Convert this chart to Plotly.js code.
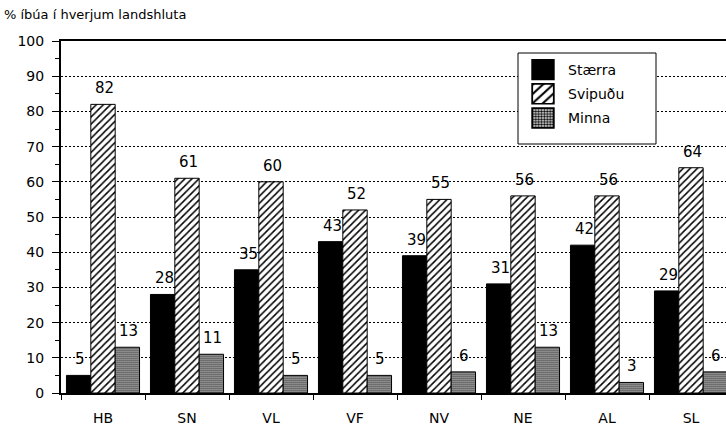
<!DOCTYPE html>
<html>
<head>
<meta charset="utf-8">
<script src="https://cdn.plot.ly/plotly-3.0.1.min.js"></script>
<style>
html,body{margin:0;padding:0;overflow:hidden;background:#fff;width:726px;height:425px;}
#chart{width:740px;height:425px;}
</style>
</head>
<body>
<div id="chart"></div>
<script>
const categories = ["HB", "SN", "VL", "VF", "NV", "NE", "AL", "SL"];
const staerra = [5, 28, 35, 43, 39, 31, 42, 29];
const svipudu = [82, 61, 60, 52, 55, 56, 56, 64];
const minna = [13, 11, 5, 5, 6, 13, 3, 6];
const seriesNames = ["Stærra", "Svipuðu", "Minna"];
const yTitle = "% íbúa í hverjum landshluta";

const FONT = "DejaVu Sans, Liberation Sans, sans-serif";
const line = {color: "#000", width: 1};

const traces = [
  {type: "bar", name: seriesNames[0], x: categories, y: staerra,
   marker: {color: "#000", line: line}, legendgroup: "a"},
  {type: "bar", name: seriesNames[1], x: categories, y: svipudu,
   marker: {color: "#fff", line: line,
     pattern: {shape: "/", fgcolor: "#000", bgcolor: "#fff", size: 5, solidity: 0.3}}, legendgroup: "b"},
  {type: "bar", name: seriesNames[2], x: categories, y: minna,
   marker: {color: "#fff", line: line,
     pattern: {shape: ".", fgcolor: "#000", bgcolor: "#fff", size: 2, solidity: 0.6}}, legendgroup: "c"}
];

const series = [staerra, svipudu, minna];
const shifts = [-24, 0, 24];
const annotations = [];
series.forEach((vals, s) => {
  vals.forEach((v, i) => {
    annotations.push({
      x: categories[i], y: v, xref: "x", yref: "y",
      text: String(v), showarrow: false,
      xanchor: "center", yanchor: "bottom",
      xshift: shifts[s] + 1, yshift: 5,
      font: {family: FONT, size: 15, color: "#000"}
    });
  });
});

const W = 740, H = 425, ML = 61, MR = 7, MT = 41, MB = 32;
const pw = W - ML - MR, ph = H - MT - MB;
const px2x = p => (p - ML) / pw;
const px2y = p => 1 - (p - MT) / ph;

const layout = {
  width: W, height: H,
  margin: {l: ML, r: MR, t: MT, b: MB},
  paper_bgcolor: "#fff", plot_bgcolor: "#fff",
  font: {family: FONT, size: 14, color: "#000"},
  title: {text: yTitle, xref: "container", yref: "container",
    x: 4/W, xanchor: "left", y: 1 - 14/H, yanchor: "middle",
    font: {family: FONT, size: 13, color: "#000"}},
  barmode: "group", bargap: 0.13, bargroupgap: 0,
  showlegend: true,
  legend: {x: px2x(518), y: px2y(54), xref: "paper", yref: "paper",
    xanchor: "left", yanchor: "top",
    borderwidth: 0, bgcolor: "rgba(0,0,0,0)",
    font: {family: FONT, size: 14, color: "#000"},
    traceorder: "grouped", tracegroupgap: 3,
    itemwidth: 40},
  shapes: [{type: "rect", xref: "paper", yref: "paper", layer: "above",
    x0: px2x(518), x1: px2x(656), y0: px2y(144), y1: px2y(53),
    line: {color: "#000", width: 1}, fillcolor: "#fff"}],
  xaxis: {type: "category", range: [-0.5, 7.5], fixedrange: true,
    showline: true, linecolor: "#000", linewidth: 2, mirror: true,
    ticks: "outside", tickson: "boundaries", ticklen: 5, tickwidth: 1, tickcolor: "#000",
    ticklabelstandoff: 11, showgrid: false, zeroline: false,
    tickfont: {family: FONT, size: 14, color: "#000"}},
  yaxis: {range: [0, 100], dtick: 10, tick0: 0, fixedrange: true,
    showline: true, linecolor: "#000", linewidth: 2, mirror: true,
    ticks: "outside", ticklen: 7, tickwidth: 1, tickcolor: "#000",
    ticklabelstandoff: 5,
    minor: {dtick: 5, ticks: "outside", ticklen: 4, tickcolor: "#000", showgrid: false},
    showgrid: true, gridcolor: "#000", griddash: "2px,2px", gridwidth: 1,
    zeroline: false,
    tickfont: {family: FONT, size: 14, color: "#000"}},
  annotations: annotations
};

Plotly.newPlot("chart", traces, layout, {staticPlot: true, displayModeBar: false}).then(gd => {
  gd.querySelectorAll(".legend .legendpoints path").forEach(p => {
    const t = p.getAttribute("transform") || "";
    p.setAttribute("transform", t + " scale(1.8,1.65)");
  });
});
</script>
</body>
</html>
